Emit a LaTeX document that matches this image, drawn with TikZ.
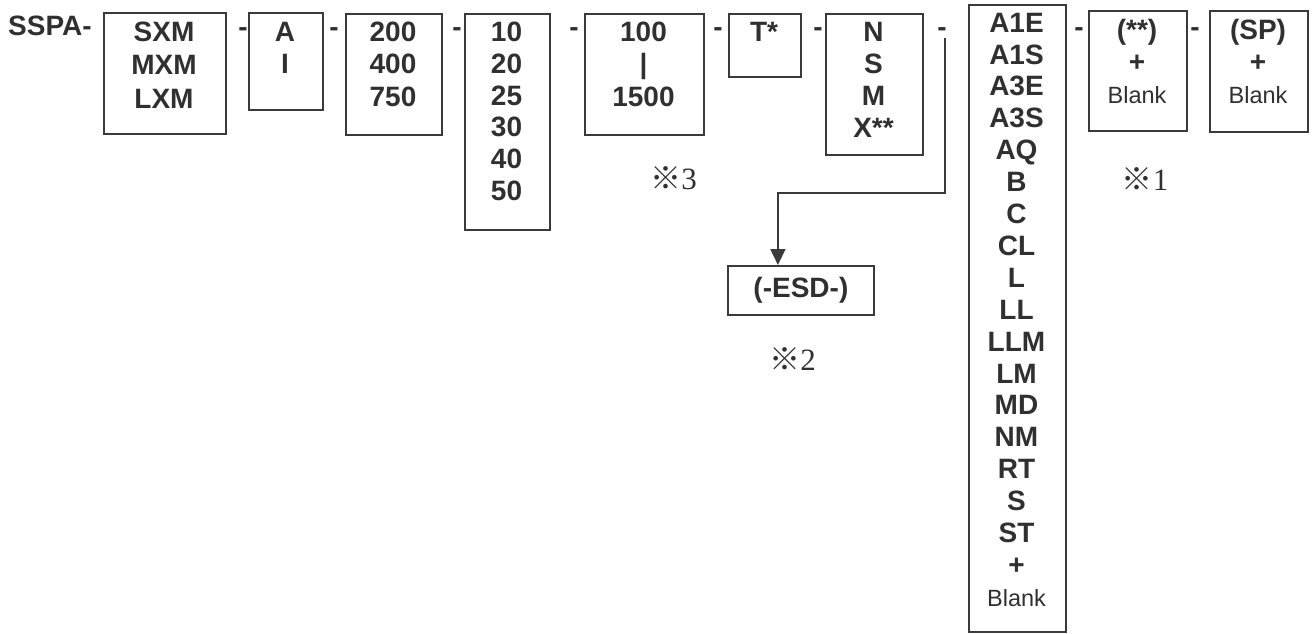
\documentclass[tikz,border=0pt]{standalone}
\usepackage{fontspec}
\setmainfont{Liberation Sans}
\newfontfamily\cjkfont{Noto Sans CJK JP}
\newfontfamily\serifnum{Liberation Serif}
\usetikzlibrary{arrows.meta}
\definecolor{ink}{HTML}{303030}
\definecolor{frame}{HTML}{3A3A3A}
\newcommand\blankfont{\fontsize{23.5}{32}\selectfont\mdseries}
\begin{document}
\begin{tikzpicture}[x=1pt,y=-1pt,
  boxst/.style={draw=frame, line width=1.8pt, inner sep=0pt, anchor=north west},
  txt/.style={text=ink, inner sep=0pt, align=center, anchor=north,
    font=\fontsize{28}{32.5}\selectfont\bfseries},
  hyph/.style={text=ink, inner sep=0pt, anchor=base,
    font=\fontsize{28}{32}\selectfont\bfseries},
  note/.style={text=ink, inner sep=0pt, anchor=base, font=\fontsize{31}{31}\selectfont},
  conn/.style={draw=frame, line width=1.8pt, -{Triangle[length=16pt 0 0,width=15pt 0 0]}}
]
\useasboundingbox (0,0) rectangle (1315,633);

% prefix
\node[hyph, anchor=base west] (sspa) at (8,35) {SSPA-};

% boxes
\node[boxst, minimum width=122pt, minimum height=121pt] (b1) at (103,12) {};
\node[boxst, minimum width=74pt,  minimum height=97pt]  (b2) at (248,12) {};
\node[boxst, minimum width=96pt,  minimum height=121pt] (b3) at (345,13) {};
\node[boxst, minimum width=85pt,  minimum height=216pt] (b4) at (464,13) {};
\node[boxst, minimum width=119pt, minimum height=121pt] (b5) at (584,13) {};
\node[boxst, minimum width=72pt,  minimum height=63pt]  (b6) at (728,13) {};
\node[boxst, minimum width=97pt,  minimum height=141pt] (b7) at (825,13) {};
\node[boxst, minimum width=97pt,  minimum height=627pt] (b8) at (968,4) {};
\node[boxst, minimum width=98pt,  minimum height=120pt] (b9) at (1088,10) {};
\node[boxst, minimum width=98pt,  minimum height=121pt] (b10) at (1209,10) {};
\node[boxst, minimum width=146pt, minimum height=49pt]  (esd) at (727,265) {};

% box texts
\node[txt, font=\fontsize{28}{33.5}\selectfont\bfseries] (t1) at (164,21.7) {SXM\\MXM\\LXM};
\node[txt] (t2) at (285,21.7) {A\\I};
\node[txt] (t3) at (393,21.7) {200\\400\\750};
\node[txt, font=\fontsize{28}{31.8}\selectfont\bfseries] (t4) at (506.5,21.7) {10\\20\\25\\30\\40\\50};
\node[txt] (t5) at (643.5,21.7) {100\\|\\1500};
\node[txt] (t6) at (764,21.7) {T*};
\node[txt, font=\fontsize{28}{32}\selectfont\bfseries] (t7) at (873.5,21.7) {N\\S\\M\\X**};
\node[txt, font=\fontsize{28}{31.9}\selectfont\bfseries] (t8) at (1016.5,12.7)
  {A1E\\A1S\\A3E\\A3S\\AQ\\B\\C\\CL\\L\\LL\\LLM\\LM\\MD\\NM\\RT\\S\\ST\\+\\{\blankfont Blank}};
\node[txt, font=\fontsize{28}{31.8}\selectfont\bfseries] (t9) at (1137,19.5) {(**)\\+\\{\blankfont Blank}};
\node[txt, font=\fontsize{28}{31.8}\selectfont\bfseries] (t10) at (1258,19.5) {(SP)\\+\\{\blankfont Blank}};
\node[txt, anchor=center] (tesd) at (esd.center) {(-ESD-)};

% hyphens between boxes
\node[hyph] (d1) at (243,36) {-};
\node[hyph] (d2) at (334,36) {-};
\node[hyph] (d3) at (457,36) {-};
\node[hyph] (d4) at (574,36) {-};
\node[hyph] (d5) at (718,36) {-};
\node[hyph] (d6) at (818,36) {-};
\node[hyph] (d7) at (942,36) {-};
\node[hyph] (d8) at (1079,36) {-};
\node[hyph] (d9) at (1195,36) {-};

% notes
\node[note] (n3) at (673.5,189) {{\cjkfont ※}{\serifnum 3}};
\node[note] (n1) at (1145,190) {{\cjkfont ※}{\serifnum 1}};
\node[note] (n2) at (792.5,370) {{\cjkfont ※}{\serifnum 2}};

% connector to ESD option
\coordinate (start) at ([shift={(3,2)}]d7.south);
\coordinate (turn) at (start |- 0,193);
\draw[conn] (start) -- (turn) -| ([xshift=-23pt]esd.north);
\end{tikzpicture}
\end{document}
